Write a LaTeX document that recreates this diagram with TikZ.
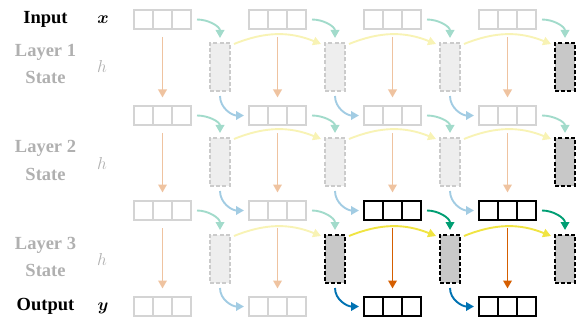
\documentclass[tikz,border=0pt]{standalone}
\usepackage{amsmath}
\usepackage{fontspec}
\setmainfont{Liberation Serif}
\usetikzlibrary{arrows.meta}
\definecolor{lgray}{HTML}{D4D4D4}
\definecolor{lrectfill}{HTML}{EEEEEE}
\definecolor{lrectdraw}{HTML}{CBCBCB}
\definecolor{drectfill}{HTML}{C8C8C8}
\definecolor{txtgray}{HTML}{B0B0B0}
\definecolor{dorange}{HTML}{D55E00}
\definecolor{lorange}{HTML}{EFC3A0}
\definecolor{dgreen}{HTML}{009E73}
\definecolor{lgreen}{HTML}{A2DBCB}
\definecolor{dblue}{HTML}{0072B2}
\definecolor{lblue}{HTML}{A2CCE3}
\definecolor{dyellow}{HTML}{F0E442}
\definecolor{lyellow}{HTML}{F8F3B5}
\begin{document}
\begin{tikzpicture}[x=1pt,y=-1pt,
  box0/.style={draw=lgray,line width=1.2pt,minimum width=57pt,minimum height=19pt,inner sep=0pt,outer sep=0pt},
  box1/.style={draw=black,line width=1.4pt,minimum width=57pt,minimum height=19pt,inner sep=0pt,outer sep=0pt},
  div0/.style={draw=lgray,line width=1.2pt},
  div1/.style={draw=black,line width=1.4pt},
  rect0/.style={draw=lrectdraw,fill=lrectfill,line width=1.1pt,dash pattern=on 4pt off 2.2pt,minimum width=20pt,minimum height=48pt,inner sep=0pt,outer sep=0pt},
  rect1/.style={draw=black,fill=drectfill,line width=1.3pt,dash pattern=on 4pt off 2.2pt,minimum width=20pt,minimum height=48pt,inner sep=0pt,outer sep=0pt},
  arr/.style={line width=1.9pt,-{Triangle[length=8pt,width=8.5pt]}},
  or0/.style={arr,lorange}, or1/.style={arr,dorange},
  gr0/.style={arr,lgreen}, gr1/.style={arr,dgreen},
  bl0/.style={arr,lblue}, bl1/.style={arr,dblue},
  ye0/.style={arr,lyellow}, ye1/.style={arr,dyellow},
  lab/.style={font=\fontsize{18.5}{21}\selectfont\bfseries,anchor=base,inner sep=0pt},
  glab/.style={lab,text=txtgray},
  sym/.style={font=\fontsize{18.5}{21}\selectfont,anchor=base,inner sep=0pt}
]
\useasboundingbox (0,0) rectangle (577,323);
% boxes
\foreach \r/\y in {0/10,1/106,2/201,3/297}{
  \foreach \c in {0,...,3}{
    \pgfmathtruncatemacro\dk{(\r>=2)&&(\c>=2)}
    \node[box\dk] (b-\r-\c) at (134+115*\c+28.5,\y+9.5) {};
    \draw[div\dk] ([xshift=19pt]b-\r-\c.north west) -- ([xshift=19pt]b-\r-\c.south west);
    \draw[div\dk] ([xshift=38pt]b-\r-\c.north west) -- ([xshift=38pt]b-\r-\c.south west);
  }
}
% state rectangles
\foreach \L/\y in {1/43,2/138,3/235}{
  \foreach \c in {0,...,3}{
    \pgfmathtruncatemacro\dk{(\c==3)||((\L==3)&&(\c>=1))}
    \node[rect\dk] (s-\L-\c) at (210+115*\c+10,\y+24) {};
  }
}
% orange vertical arrows
\foreach \r in {0,1,2}{
  \foreach \c in {0,...,3}{
    \pgfmathtruncatemacro\rn{\r+1}
    \pgfmathtruncatemacro\dk{(\r==2)&&(\c>=2)}
    \draw[or\dk] ([yshift=-8pt]b-\r-\c.south) -- ([yshift=8.5pt]b-\rn-\c.north);
  }
}
% green arrows
\foreach \r in {0,1,2}{
  \foreach \c in {0,...,3}{
    \pgfmathtruncatemacro\L{\r+1}
    \pgfmathtruncatemacro\dk{(\r==2)&&(\c>=2)}
    \draw[gr\dk] ([xshift=6pt]b-\r-\c.east) to[out=0,in=90] ([yshift=5pt]s-\L-\c.north);
  }
}
% yellow arrows
\foreach \L in {1,2,3}{
  \foreach \c in {0,1,2}{
    \pgfmathtruncatemacro\cn{\c+1}
    \pgfmathtruncatemacro\dk{(\L==3)&&(\c>=1)}
    \draw[ye\dk] ([xshift=4pt,yshift=-1pt]s-\L-\c.north east) to[bend left=22] ([xshift=-4pt,yshift=-1pt]s-\L-\cn.north west);
  }
}
% blue arrows
\foreach \L in {1,2,3}{
  \foreach \c in {0,1,2}{
    \pgfmathtruncatemacro\cn{\c+1}
    \pgfmathtruncatemacro\dk{(\L==3)&&(\c>=1)}
    \draw[bl\dk] ([yshift=-5pt]s-\L-\c.south) to[out=-90,in=180] ([xshift=-5pt]b-\L-\cn.west);
  }
}
% labels
\node[lab] (tin) at (45.5,24) {Input};
\node[sym] (sx) at (103,24) {$\boldsymbol{x}$};
\node[glab] (l1a) at (45.5,57) {Layer 1};
\node[glab] (l1b) at (45.5,84) {State};
\node[sym,text=txtgray] (h1) at (102,73) {$h$};
\node[glab] (l2a) at (45.5,153) {Layer 2};
\node[glab] (l2b) at (45.5,180) {State};
\node[sym,text=txtgray] (h2) at (102,169) {$h$};
\node[glab] (l3a) at (45.5,249) {Layer 3};
\node[glab] (l3b) at (45.5,276) {State};
\node[sym,text=txtgray] (h3) at (102,265) {$h$};
\node[lab] (tout) at (45.5,310) {Output};
\node[sym] (sy) at (103,310) {$\boldsymbol{y}$};
\end{tikzpicture}
\end{document}
